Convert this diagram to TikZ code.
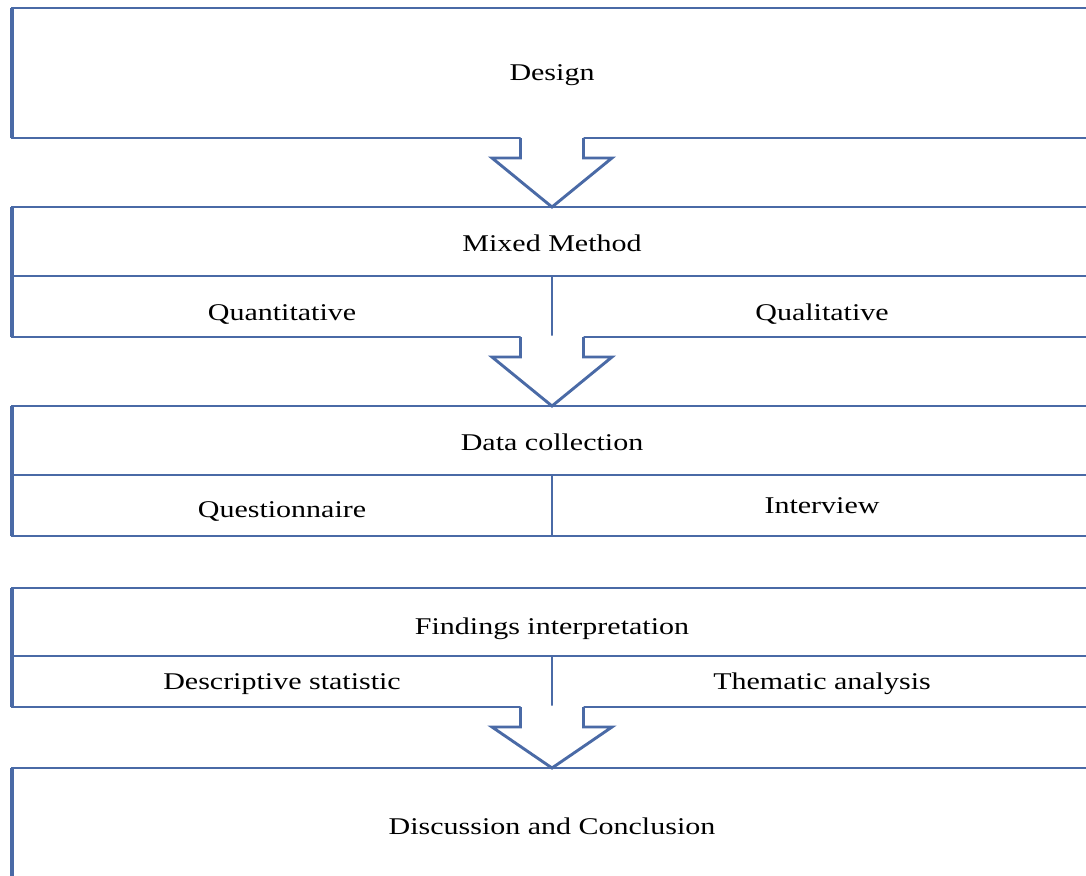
\documentclass[tikz,border=0pt]{standalone}
\usepackage{fontspec}
\setmainfont{Liberation Serif}[FakeStretch=1.25]
\usetikzlibrary{calc}
\definecolor{frameblue}{RGB}{74,106,166}

% block arrow from a box bottom (#1) to the next box top (#2)
\newcommand\flowarrow[2]{%
  \fill[white] ($(#1)+(-31.5,-1.4)$) -- ($(#1)+(31.5,-1.4)$) -- ($(#1)+(31.5,20)$)
    -- ($(#1)+(60,20)$) -- (#2) -- ($(#1)+(-60,20)$) -- ($(#1)+(-31.5,20)$) -- cycle;
  \draw[arrowline] ($(#1)+(-31.5,0)$) -- ($(#1)+(-31.5,20)$) -- ($(#1)+(-60,20)$)
    -- (#2) -- ($(#1)+(60,20)$) -- ($(#1)+(31.5,20)$) -- ($(#1)+(31.5,0)$);%
}

\begin{document}
\begin{tikzpicture}[x=1pt, y=-1pt,
  font=\fontsize{24}{28}\selectfont,
  cell/.style={draw=frameblue, line width=2.9pt, outer sep=0pt, inner sep=0pt,
               text depth=5.5pt, text height=21.5pt},
  wide/.style={cell, minimum width=1080},
  half/.style={cell, minimum width=540},
  drop/.style={text height=#1},
  leftedge/.style={draw=frameblue, line width=4.8pt},
  arrowline/.style={draw=frameblue, line width=2.9pt, line join=miter}
]
\useasboundingbox (0,0) rectangle (1086,875);

\node[wide, minimum height=130]              (design)   at (552,73)    {Design};
\node[wide, minimum height=69, drop=24.5pt]  (mixed)    at (552,241.5) {Mixed Method};
\node[half, minimum height=61, drop=33pt]    (quant)    at (282,306.5) {Quantitative};
\node[half, minimum height=61, drop=33pt]    (qual)     at (822,306.5) {Qualitative};
\node[wide, minimum height=69, drop=24.5pt]  (collect)  at (552,440.5) {Data collection};
\node[half, minimum height=61, drop=28.5pt]  (quest)    at (282,505.5) {Questionnaire};
\node[half, minimum height=61, drop=20.5pt]  (interv)   at (822,505.5) {Interview};
\node[wide, minimum height=68, drop=30.5pt]  (findings) at (552,622)   {Findings interpretation};
\node[half, minimum height=51, drop=20.5pt]  (descr)    at (282,681.5) {Descriptive statistic};
\node[half, minimum height=51, drop=20.5pt]  (thematic) at (822,681.5) {Thematic analysis};
\node[wide, minimum height=116]              (discuss)  at (552,826)   {Discussion and Conclusion};

% thicker left edges
\foreach \ta/\tb in {design/design, mixed/quant, collect/quest, findings/descr, discuss/discuss}
  \draw[leftedge] (\ta.north west) -- (\tb.south west);

\flowarrow{design.south}{mixed.north}
\flowarrow{quant.south east}{collect.north}
\flowarrow{descr.south east}{discuss.north}
\end{tikzpicture}
\end{document}
